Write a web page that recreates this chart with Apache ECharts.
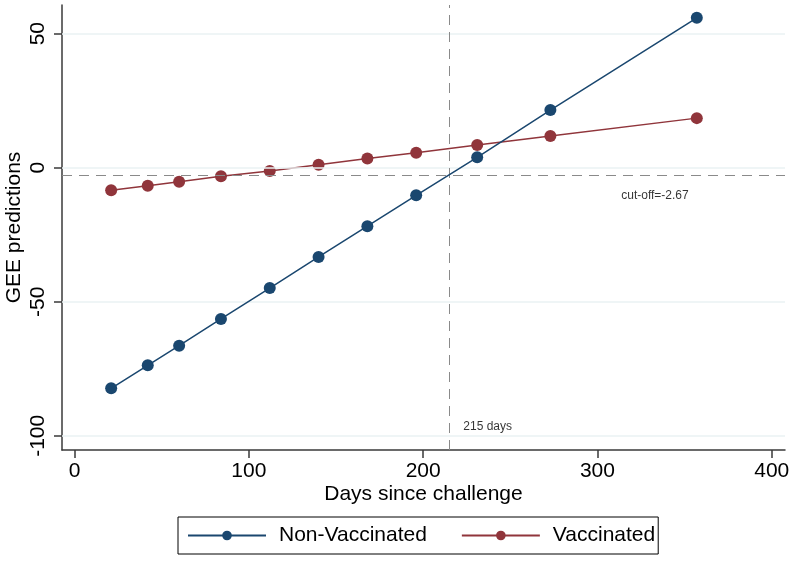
<!DOCTYPE html>
<html>
<head>
<meta charset="utf-8">
<script src="https://cdn.jsdelivr.net/npm/echarts@6/dist/echarts.min.js"></script>
<style>
html,body{margin:0;padding:0;background:#fff;}
#chart{width:793px;height:562px;}
</style>
</head>
<body>
<div id="chart"></div>
<script>
const days = [21, 42, 60, 84, 112, 140, 168, 196, 231, 273, 357];
const nonVaccinated = [-82.3, -73.7, -66.4, -56.4, -44.9, -33.3, -21.8, -10.3, 3.9, 21.5, 55.9];
const vaccinated = [-8.4, -6.7, -5.2, -3.2, -1.2, 1.1, 3.4, 5.6, 8.5, 11.8, 18.5];
const xTicks = [0, 100, 200, 300, 400];
const yTicks = [-100, -50, 0, 50];
const cutoff = -2.67;
const cutoffDay = 215;
const cutoffLabel = 'cut-off=-2.67';
const dayLabel = '215 days';
const cutoffLabelAt = [333, -10.5];
const dayLabelAt = [237, -96.7];

const FONT = '"Liberation Sans", Arial, sans-serif';
const NAVY = '#1a476f';
const MAROON = '#90353b';
const AXIS = '#3a3a3a';

const chart = echarts.init(document.getElementById('chart'), null, {renderer: 'canvas'});

function pairs(xs, ys) { return xs.map((x, i) => [x, ys[i]]); }

chart.setOption({
  backgroundColor: '#fff',
  animation: false,
  textStyle: {fontFamily: FONT},
  grid: {left: 62, right: 8, top: 5, bottom: 112, containLabel: false, outerBoundsMode: 'none'},
  xAxis: {
    type: 'value', min: -7.2, max: 407.6,
    name: 'Days since challenge', nameLocation: 'middle', nameGap: 34, nameMoveOverlap: false,
    nameTextStyle: {fontSize: 21, color: '#000', fontFamily: FONT},
    axisLine: {show: true, onZero: false, lineStyle: {color: AXIS, width: 1.5}},
    axisTick: {show: true, length: 8, customValues: xTicks, lineStyle: {color: AXIS, width: 1.5}},
    axisLabel: {customValues: xTicks, fontSize: 21, color: '#000', margin: 11, fontFamily: FONT},
    splitLine: {show: false}
  },
  yAxis: {
    type: 'value', min: -105.3, max: 60.7,
    name: 'GEE predictions', nameLocation: 'middle', nameGap: 37, nameRotate: 90, nameMoveOverlap: false,
    nameTextStyle: {fontSize: 21, color: '#000', fontFamily: FONT},
    axisLine: {show: true, onZero: false, lineStyle: {color: AXIS, width: 1.5}},
    axisTick: {show: true, length: 8, customValues: yTicks, lineStyle: {color: AXIS, width: 1.5}},
    axisLabel: {customValues: yTicks, fontSize: 21, color: '#000', margin: 13, rotate: 90, fontFamily: FONT},
    splitLine: {show: false}
  },
  legend: {
    left: 178, top: 517,
    data: ['Non-Vaccinated', 'Vaccinated'],
    orient: 'horizontal',
    itemWidth: 78, itemHeight: 12, itemGap: 34,
    padding: [8, 3, 8, 9],
    borderColor: '#000', borderWidth: 1,
    textStyle: {fontSize: 21, color: '#000', padding: [0, 0, 0, 8], fontFamily: FONT}
  },
  series: [
    {
      type: 'line', name: 'grid', silent: true, data: [], z: 1,
      markLine: {
        silent: true, symbol: 'none', animation: false,
        label: {show: false},
        lineStyle: {color: '#eaf2f3', width: 1.5, type: 'solid'},
        data: yTicks.map(v => ({yAxis: v}))
      }
    },
    {
      type: 'line', name: 'refs', silent: true, data: [], z: 2,
      markLine: {
        silent: true, symbol: 'none', animation: false,
        label: {show: false},
        lineStyle: {color: '#8a8a8a', width: 1, type: [10, 7]},
        data: [{yAxis: cutoff}, {xAxis: cutoffDay}]
      }
    },
    {
      type: 'line', name: 'Non-Vaccinated', data: pairs(days, nonVaccinated), z: 5,
      symbol: 'circle', symbolSize: 12, showAllSymbol: true,
      itemStyle: {color: NAVY},
      lineStyle: {color: NAVY, width: 1.5}
    },
    {
      type: 'line', name: 'Vaccinated', data: pairs(days, vaccinated), z: 4,
      symbol: 'circle', symbolSize: 12, showAllSymbol: true,
      itemStyle: {color: MAROON},
      lineStyle: {color: MAROON, width: 1.5}
    },
    {
      type: 'scatter', name: 'notes', silent: true, symbolSize: 0, z: 6,
      data: [
        {value: cutoffLabelAt, label: {formatter: cutoffLabel}},
        {value: dayLabelAt, label: {formatter: dayLabel}}
      ],
      label: {show: true, position: 'inside', fontSize: 12, color: '#000', fontFamily: FONT}
    }
  ]
});
</script>
</body>
</html>
